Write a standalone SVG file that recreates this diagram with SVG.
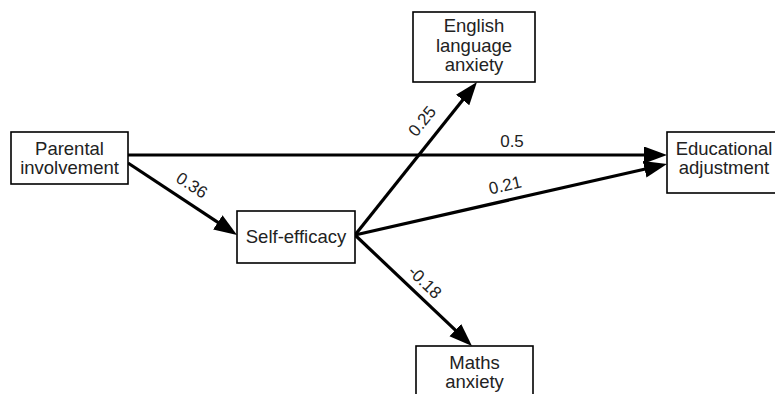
<svg xmlns="http://www.w3.org/2000/svg" width="775" height="394" viewBox="0 0 775 394">
<style>
.box{fill:#fff;stroke:#000;stroke-width:1.6}
.t{font-family:"Liberation Sans",Arial,sans-serif;font-size:18.5px;fill:#222;text-anchor:middle}
.l{font-family:"Liberation Sans",Arial,sans-serif;font-size:17px;fill:#222;text-anchor:middle}
.e{stroke:#000;stroke-width:3.2;fill:none;marker-end:url(#ah)}
</style>
<defs>
<marker id="ah" markerUnits="userSpaceOnUse" markerWidth="26" markerHeight="20" refX="11" refY="8.5" orient="auto">
<path d="M0,0 L23,8.5 L0,17 z" fill="#000"/>
</marker>
</defs>
<rect width="775" height="394" fill="#fff"/>
<g id="connectors">
<line class="e" x1="128" y1="155" x2="655" y2="155"/>
<line class="e" x1="128" y1="163" x2="227" y2="228.4"/>
<line class="e" x1="355" y1="235" x2="469.5" y2="91.4"/>
<line class="e" x1="355" y1="235" x2="655.3" y2="166.7"/>
<line class="e" x1="355" y1="235" x2="463.3" y2="337.7"/>
<text class="l" x="512" y="147">0.5</text>
<text class="l" transform="translate(192,185) rotate(33)" y="6">0.36</text>
<text class="l" transform="translate(505,185) rotate(-12.8)" y="6">0.21</text>
<text class="l" transform="translate(422,121) rotate(-51)" y="6">0.25</text>
<text class="l" transform="translate(425,282) rotate(44)" y="6">-0.18</text>
</g>
<g id="parental">
<rect class="box" x="11" y="132" width="117" height="52"/>
<text class="t" x="69.5" y="155">Parental</text>
<text class="t" x="69.5" y="174">involvement</text>
</g>
<g id="self-efficacy">
<rect class="box" x="237" y="211" width="118" height="52"/>
<text class="t" x="296" y="243">Self-efficacy</text>
</g>
<g id="english">
<rect class="box" x="413" y="12" width="122" height="70"/>
<text class="t" x="474" y="32">English</text>
<text class="t" x="474" y="51.5">language</text>
<text class="t" x="474" y="71">anxiety</text>
</g>
<g id="educational">
<rect class="box" x="667" y="132" width="115" height="61"/>
<text class="t" x="724" y="155">Educational</text>
<text class="t" x="724" y="174">adjustment</text>
</g>
<g id="maths">
<rect class="box" x="416" y="346" width="117" height="60"/>
<text class="t" x="474.5" y="369">Maths</text>
<text class="t" x="474.5" y="388">anxiety</text>
</g>
</svg>
